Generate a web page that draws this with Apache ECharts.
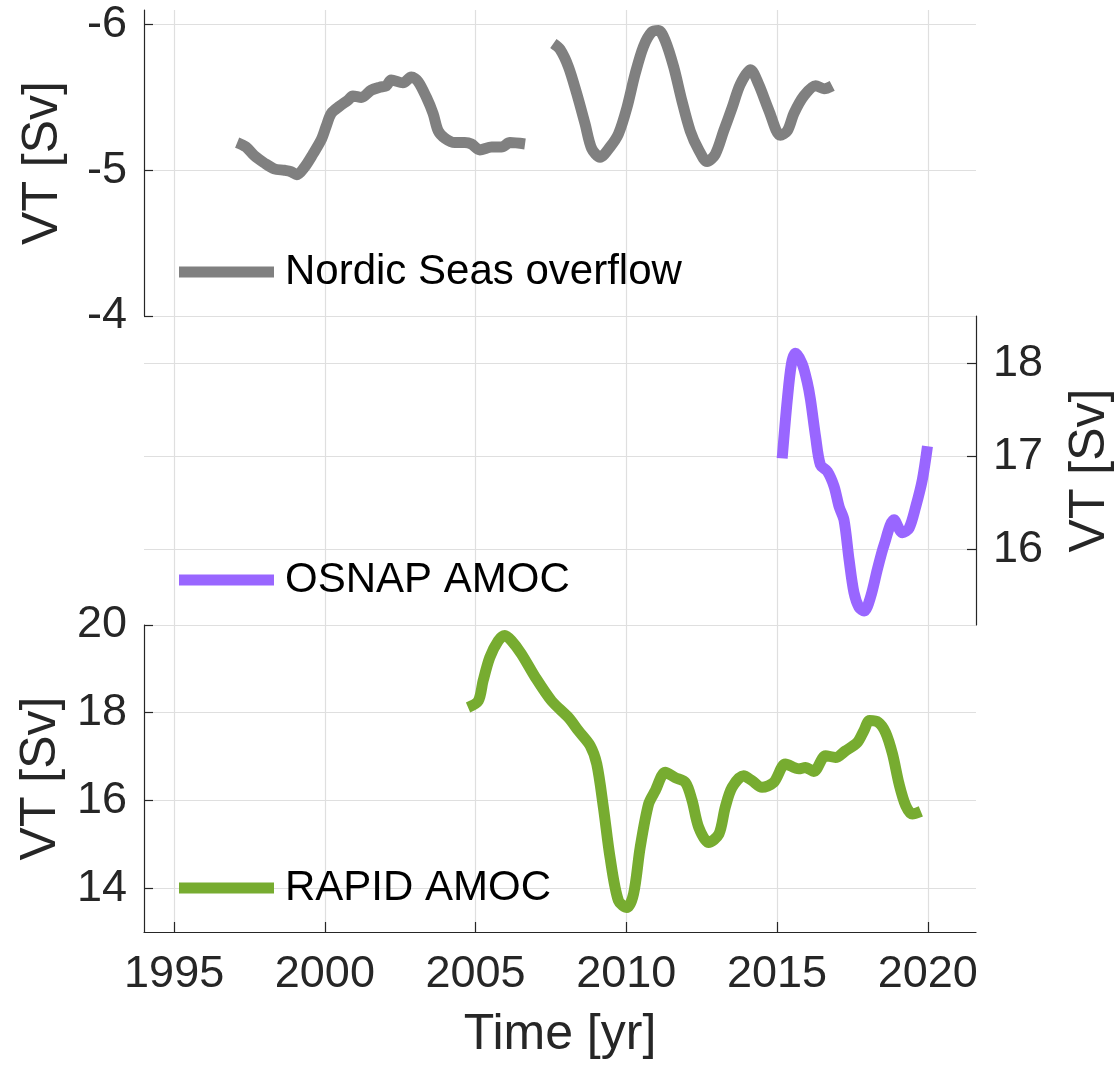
<!DOCTYPE html>
<html><head><meta charset="utf-8">
<script src="https://cdn.jsdelivr.net/npm/echarts@6/dist/echarts.min.js"></script>
<style>html,body{margin:0;padding:0;background:#fff}#c{width:1120px;height:1068px}</style>
</head><body><div id="c"></div>
<script>
// ---- tick values ----
const xTicks = [1995, 2000, 2005, 2010, 2015, 2020];
const nordicTicks = [-6, -5, -4];
const osnapTicks = [16, 17, 18];
const rapidTicks = [14, 16, 18, 20];

// ---- Nordic Seas overflow (two segments) ----
const nordicT1 = [1997.09,1997.38,1997.66,1997.99,1998.32,1998.66,1998.88,1999.07,1999.32,1999.60,1999.88,2000.04,2000.21,2000.49,2000.76,2000.93,2001.21,2001.54,2001.82,2002.04,2002.20,2002.59,2002.87,2003.09,2003.37,2003.59,2003.76,2003.98,2004.31,2004.64,2004.86,2005.14,2005.53,2005.86,2006.14,2006.64];
const nordicV1 = [-5.19,-5.16,-5.10,-5.05,-5.01,-5.00,-4.99,-4.97,-5.02,-5.11,-5.21,-5.30,-5.39,-5.44,-5.48,-5.51,-5.50,-5.55,-5.57,-5.58,-5.62,-5.60,-5.64,-5.61,-5.50,-5.39,-5.27,-5.22,-5.19,-5.19,-5.18,-5.14,-5.16,-5.16,-5.19,-5.18];
const nordicT2 = [2007.58,2007.80,2008.08,2008.35,2008.63,2008.85,2009.13,2009.46,2009.74,2010.02,2010.29,2010.57,2010.85,2011.07,2011.29,2011.57,2011.84,2012.12,2012.40,2012.68,2012.95,2013.23,2013.51,2013.78,2014.12,2014.39,2014.73,2015.11,2015.34,2015.56,2015.89,2016.28,2016.56,2016.83];
const nordicV2 = [-5.87,-5.83,-5.71,-5.53,-5.32,-5.15,-5.09,-5.16,-5.25,-5.43,-5.66,-5.85,-5.95,-5.96,-5.89,-5.71,-5.48,-5.27,-5.14,-5.06,-5.11,-5.27,-5.43,-5.59,-5.69,-5.59,-5.41,-5.24,-5.27,-5.39,-5.51,-5.58,-5.56,-5.58];

// ---- OSNAP AMOC ----
const osnapT = [2015.17,2015.34,2015.48,2015.61,2015.83,2016.00,2016.11,2016.28,2016.44,2016.67,2016.89,2017.06,2017.22,2017.39,2017.55,2017.72,2017.89,2018.11,2018.33,2018.55,2018.88,2019.16,2019.38,2019.60,2019.82,2019.99];
const osnapV = [16.98,17.61,18.00,18.11,18.00,17.80,17.61,17.21,16.91,16.84,16.68,16.46,16.32,15.89,15.54,15.38,15.34,15.50,15.79,16.05,16.32,16.18,16.23,16.46,16.75,17.11];

// ---- RAPID AMOC ----
const rapidT = [2004.75,2005.09,2005.25,2005.47,2005.75,2005.97,2006.19,2006.52,2006.98,2007.52,2008.08,2008.41,2008.80,2009.02,2009.24,2009.46,2009.74,2010.02,2010.24,2010.46,2010.74,2010.96,2011.29,2011.62,2011.96,2012.18,2012.40,2012.73,2013.07,2013.28,2013.51,2013.89,2014.17,2014.50,2014.89,2015.28,2015.72,2015.94,2016.22,2016.61,2016.94,2017.27,2017.66,2017.88,2018.07,2018.36,2018.60,2018.83,2019.05,2019.27,2019.49,2019.77];
const rapidV = [18.12,18.27,18.73,19.26,19.64,19.76,19.64,19.34,18.81,18.27,17.89,17.59,17.25,16.83,15.84,14.70,13.71,13.56,13.87,14.93,15.92,16.22,16.64,16.52,16.41,16.00,15.39,15.04,15.23,15.84,16.30,16.56,16.45,16.30,16.41,16.83,16.72,16.75,16.66,17.02,16.98,17.13,17.32,17.59,17.82,17.78,17.55,17.06,16.37,15.88,15.69,15.75];

const zip = (t, v) => t.map((x, i) => [x, v[i]]);
const FONT = '"Liberation Sans", Arial, Helvetica, sans-serif';
const AX = '#262626', GRID = '#dfdfdf';
const TICK_FS = 45, LABEL_FS = 50, LEG_FS = 42;

function xAxis(gridIndex, bottom) {
  return {
    type: 'value', gridIndex, min: 1994, max: 2021.6, minInterval: 5, maxInterval: 5,
    axisLine: { show: bottom, onZero: false, lineStyle: { color: AX, width: 1.2 } },
    axisTick: { show: bottom, inside: true, length: 10, customValues: xTicks, lineStyle: { color: AX, width: 1.2 } },
    axisLabel: { show: bottom, customValues: xTicks, margin: 20, color: AX, fontSize: TICK_FS, fontFamily: FONT,
      formatter: v => xTicks.includes(v) ? String(v) : '' },
    splitLine: { show: true, lineStyle: { color: GRID, width: 1.2 } },
    name: bottom ? 'Time [yr]' : '', nameLocation: 'middle', nameGap: 78,
    nameTextStyle: { color: AX, fontSize: LABEL_FS, fontFamily: FONT }
  };
}
function yAxis(gridIndex, pos, min, max, ticks, opts) {
  return Object.assign({
    type: 'value', gridIndex, position: pos, min, max,
    axisLine: { show: true, onZero: false, lineStyle: { color: AX, width: 1.2 } },
    axisTick: { show: true, inside: true, length: 9, customValues: ticks, lineStyle: { color: AX, width: 1.2 } },
    axisLabel: { customValues: ticks, margin: 17, color: AX, fontSize: TICK_FS, fontFamily: FONT,
      formatter: v => ticks.includes(v) ? String(v) : '' },
    splitLine: { show: true, lineStyle: { color: GRID, width: 1.2 } },
    name: 'VT [Sv]', nameLocation: 'middle', nameRotate: 90, nameGap: 76,
    nameTextStyle: { color: AX, fontSize: LABEL_FS, fontFamily: FONT }
  }, opts || {});
}
function legend(name, top) {
  return {
    data: [name], left: 179, top, padding: 0, itemWidth: 95, itemHeight: 11, icon: 'rect',
    selectedMode: false,
    textStyle: { color: '#000', fontSize: LEG_FS, fontFamily: FONT, lineHeight: 46, padding: [0, 0, 0, 6] }
  };
}
function line(name, data, color, xi) {
  return {
    type: 'line', name, data, xAxisIndex: xi, yAxisIndex: xi,
    showSymbol: false, symbol: 'none', smooth: 0.3,
    color, lineStyle: { color, width: 11, cap: 'butt', join: 'round' },
    itemStyle: { color }, emphasis: { disabled: true }, z: 5
  };
}

const GRAY = '#808080', PURPLE = '#9966FF', GREEN = '#77AC30';

const chart = echarts.init(document.getElementById('c'), null, { renderer: 'canvas' });
chart.setOption({
  animation: false,
  backgroundColor: '#fff',
  grid: [
    { left: 144, right: 144, top: 10, height: 306, outerBoundsMode: 'none' },
    { left: 144, right: 144, top: 316, height: 309, outerBoundsMode: 'none' },
    { left: 144, right: 144, top: 625, height: 307, outerBoundsMode: 'none' }
  ],
  xAxis: [xAxis(0, false), xAxis(1, false), xAxis(2, true)],
  yAxis: [
    yAxis(0, 'left', -6.1, -4, nordicTicks, { inverse: true }),
    yAxis(1, 'right', 15.19, 18.51, osnapTicks, { nameGap: 89 }),
    yAxis(2, 'left', 13, 20, rapidTicks)
  ],
  legend: [
    legend('Nordic Seas overflow', 249),
    legend('OSNAP AMOC', 557),
    legend('RAPID AMOC', 865)
  ],
  series: [
    line('Nordic Seas overflow', zip(nordicT1, nordicV1), GRAY, 0),
    line('Nordic Seas overflow', zip(nordicT2, nordicV2), GRAY, 0),
    line('OSNAP AMOC', zip(osnapT, osnapV), PURPLE, 1),
    line('RAPID AMOC', zip(rapidT, rapidV), GREEN, 2)
  ]
});
</script></body></html>
